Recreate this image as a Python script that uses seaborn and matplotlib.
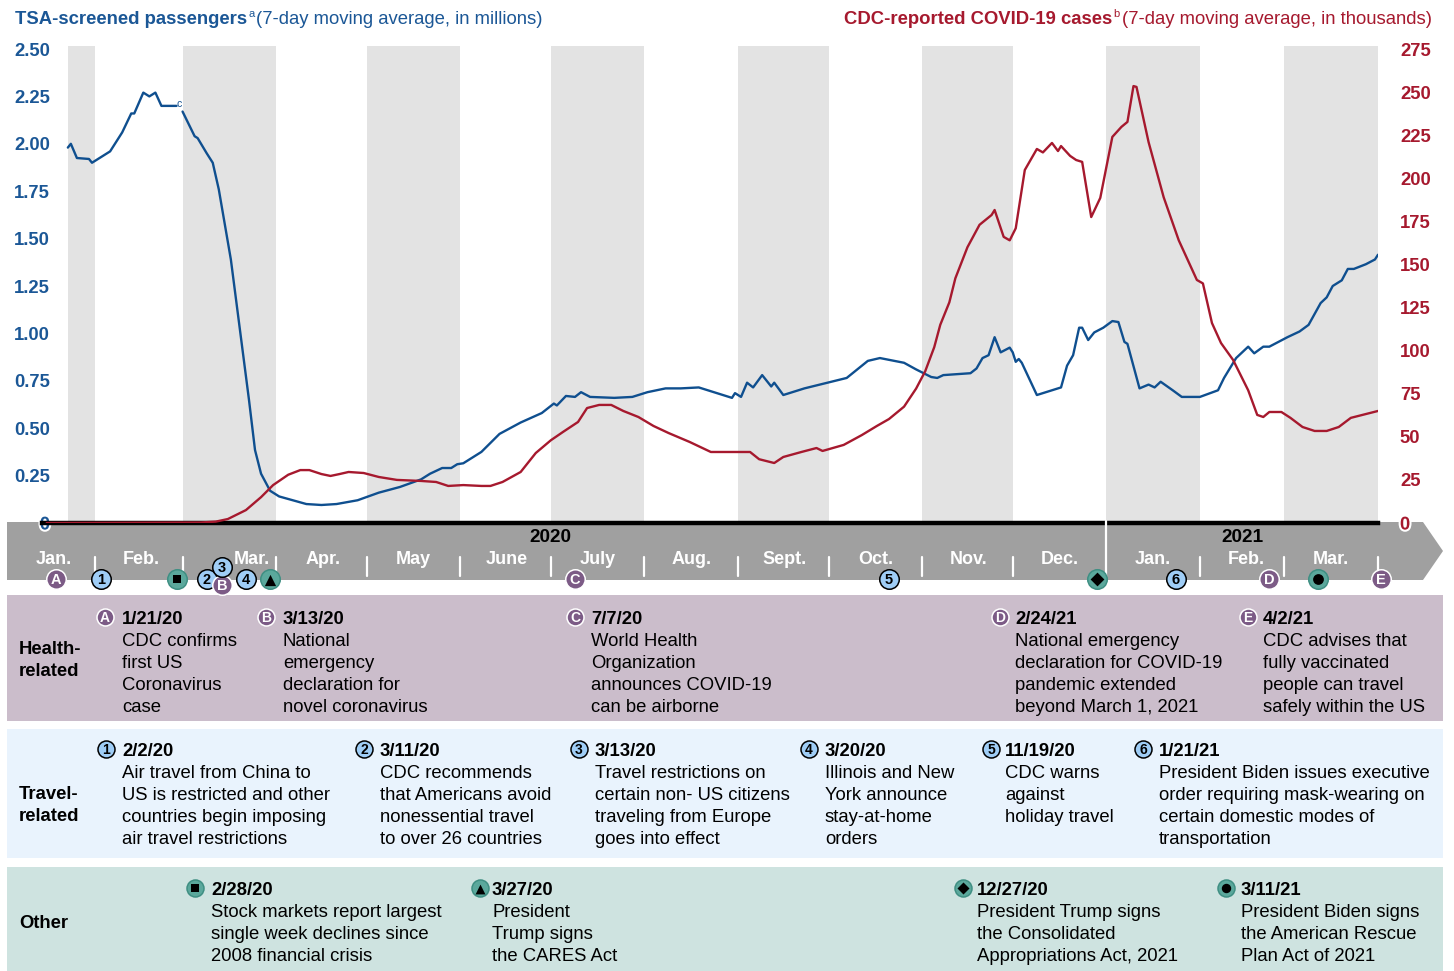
import matplotlib
matplotlib.use("Agg")
import matplotlib.pyplot as plt
import matplotlib.dates as mdates
import matplotlib.patheffects as pe
from matplotlib.patches import Polygon, Rectangle
import numpy as np
import pandas as pd
import seaborn as sns

# ---------------- data ----------------
tsa_dates = ["2020-01-23", "2020-01-24", "2020-01-26", "2020-01-30", "2020-01-31", "2020-02-06",
             "2020-02-08", "2020-02-10", "2020-02-13", "2020-02-14", "2020-02-17", "2020-02-19",
             "2020-02-21", "2020-02-23", "2020-02-28", "2020-02-29", "2020-03-01", "2020-03-05",
             "2020-03-06", "2020-03-09", "2020-03-11", "2020-03-13", "2020-03-17", "2020-03-20",
             "2020-03-23", "2020-03-25", "2020-03-27", "2020-03-30", "2020-04-02", "2020-04-11",
             "2020-04-16", "2020-04-21", "2020-04-28", "2020-05-05", "2020-05-12", "2020-05-19",
             "2020-05-22", "2020-05-26", "2020-05-29", "2020-05-31", "2020-06-02", "2020-06-08",
             "2020-06-14", "2020-06-21", "2020-06-28", "2020-07-02", "2020-07-03", "2020-07-06",
             "2020-07-09", "2020-07-11", "2020-07-14", "2020-07-22", "2020-07-28", "2020-08-02",
             "2020-08-08", "2020-08-13", "2020-08-19", "2020-08-24", "2020-08-30", "2020-08-31",
             "2020-09-02", "2020-09-04", "2020-09-06", "2020-09-09", "2020-09-12", "2020-09-13",
             "2020-09-16", "2020-09-23", "2020-10-07", "2020-10-14", "2020-10-18", "2020-10-26",
             "2020-10-30", "2020-11-04", "2020-11-06", "2020-11-08", "2020-11-17", "2020-11-19",
             "2020-11-21", "2020-11-23", "2020-11-25", "2020-11-27", "2020-11-30", "2020-12-01",
             "2020-12-02", "2020-12-03", "2020-12-04", "2020-12-09", "2020-12-17", "2020-12-19",
             "2020-12-21", "2020-12-23", "2020-12-24", "2020-12-26", "2020-12-28", "2020-12-31",
             "2021-01-03", "2021-01-05", "2021-01-07", "2021-01-08", "2021-01-12", "2021-01-15",
             "2021-01-17", "2021-01-19", "2021-01-23", "2021-01-26", "2021-02-01", "2021-02-07",
             "2021-02-09", "2021-02-13", "2021-02-17", "2021-02-19", "2021-02-22", "2021-02-24",
             "2021-02-27", "2021-03-02", "2021-03-06", "2021-03-09", "2021-03-13", "2021-03-15",
             "2021-03-17", "2021-03-20", "2021-03-22", "2021-03-24", "2021-03-28", "2021-03-31",
             "2021-04-01"]
tsa_millions = [1.98, 2.00, 1.925, 1.92, 1.90, 1.96,
                2.01, 2.06, 2.16, 2.16, 2.27, 2.25,
                2.27, 2.20, 2.20, np.nan, 2.17, 2.04,
                2.03, 1.95, 1.90, 1.76, 1.39, 1.02,
                0.65, 0.385, 0.26, 0.17, 0.14, 0.10,
                0.095, 0.10, 0.12, 0.16, 0.19, 0.23,
                0.26, 0.29, 0.29, 0.31, 0.315, 0.375,
                0.47, 0.53, 0.58, 0.63, 0.62, 0.67,
                0.665, 0.69, 0.665, 0.66, 0.665, 0.69,
                0.71, 0.71, 0.715, 0.69, 0.66, 0.685,
                0.665, 0.74, 0.715, 0.78, 0.72, 0.74,
                0.675, 0.71, 0.765, 0.855, 0.87, 0.845,
                0.81, 0.77, 0.765, 0.78, 0.79, 0.815,
                0.87, 0.885, 0.98, 0.90, 0.925, 0.90,
                0.85, 0.865, 0.845, 0.675, 0.715, 0.83,
                0.885, 1.03, 1.03, 0.965, 1.005, 1.03,
                1.065, 1.06, 0.955, 0.945, 0.71, 0.73,
                0.715, 0.745, 0.70, 0.665, 0.665, 0.70,
                0.765, 0.87, 0.93, 0.895, 0.93, 0.93,
                0.955, 0.98, 1.01, 1.045, 1.16, 1.19,
                1.25, 1.28, 1.34, 1.34, 1.365, 1.39,
                1.415]

cdc_dates = ["2020-01-16", "2020-03-07", "2020-03-12", "2020-03-16", "2020-03-22", "2020-03-27",
             "2020-03-31", "2020-04-05", "2020-04-09", "2020-04-12", "2020-04-16", "2020-04-19",
             "2020-04-22", "2020-04-25", "2020-04-30", "2020-05-05", "2020-05-11", "2020-05-19",
             "2020-05-24", "2020-05-28", "2020-06-02", "2020-06-08", "2020-06-11", "2020-06-15",
             "2020-06-21", "2020-06-26", "2020-07-01", "2020-07-05", "2020-07-10", "2020-07-13",
             "2020-07-17", "2020-07-21", "2020-07-25", "2020-07-30", "2020-08-04", "2020-08-09",
             "2020-08-16", "2020-08-23", "2020-09-01", "2020-09-05", "2020-09-08", "2020-09-13",
             "2020-09-16", "2020-09-22", "2020-09-27", "2020-09-29", "2020-10-06", "2020-10-12",
             "2020-10-17", "2020-10-21", "2020-10-26", "2020-10-30", "2020-11-02", "2020-11-05",
             "2020-11-07", "2020-11-10", "2020-11-12", "2020-11-16", "2020-11-20", "2020-11-24",
             "2020-11-25", "2020-11-28", "2020-11-30", "2020-12-02", "2020-12-05", "2020-12-09",
             "2020-12-11", "2020-12-14", "2020-12-16", "2020-12-17", "2020-12-20", "2020-12-22",
             "2020-12-24", "2020-12-27", "2020-12-30", "2021-01-03", "2021-01-06", "2021-01-08",
             "2021-01-10", "2021-01-11", "2021-01-15", "2021-01-20", "2021-01-25", "2021-01-31",
             "2021-02-02", "2021-02-05", "2021-02-08", "2021-02-12", "2021-02-17", "2021-02-20",
             "2021-02-22", "2021-02-24", "2021-02-28", "2021-03-03", "2021-03-07", "2021-03-11",
             "2021-03-15", "2021-03-19", "2021-03-23", "2021-04-01"]
cdc_thousands = [0, 0.3, 0.8, 2.3, 7.5, 15,
                 22, 28, 30.7, 30.7, 28.4, 27.3,
                 28.4, 29.6, 29, 26.7, 25, 24.4,
                 23.8, 21.5, 22, 21.5, 21.5, 23.8,
                 29.6, 40.6, 48, 52.8, 58.6, 66.7,
                 68.5, 68.5, 65, 61.5, 56.3, 52.2,
                 47, 41.2, 41.2, 41.2, 37, 34.8,
                 38.3, 41.2, 43.5, 41.8, 45.3, 51,
                 56.3, 60.3, 67.5, 78, 88, 102,
                 115, 128, 142, 160, 173, 178.7,
                 181.6, 166, 164, 171, 204.8, 217,
                 215, 220.5, 215.8, 218.7, 213, 210.6,
                 209.5, 177.5, 188.6, 224, 229.8, 232.7,
                 253.5, 253, 221, 189, 164, 141,
                 139, 116, 104.4, 94.6, 77, 62.7,
                 61.5, 64.4, 64.4, 61, 55.7, 53.4,
                 53.4, 55.7, 61, 65]

left_ticks = [0, 0.25, 0.5, 0.75, 1.0, 1.25, 1.5, 1.75, 2.0, 2.25, 2.5]
right_ticks = [0, 25, 50, 75, 100, 125, 150, 175, 200, 225, 250, 275]
month_names = ["Jan.", "Feb.", "Mar.", "Apr.", "May", "June", "July", "Aug.", "Sept.",
               "Oct.", "Nov.", "Dec.", "Jan.", "Feb.", "Mar."]
year_names = ["2020", "2021"]

health_keys = ["A", "B", "C", "D", "E"]
health_dates = ["1/21/20", "3/13/20", "7/7/20", "2/24/21", "4/2/21"]
health_texts = [["CDC confirms", "first US", "Coronavirus", "case"],
                ["National", "emergency", "declaration for", "novel coronavirus"],
                ["World Health", "Organization", "announces COVID-19", "can be airborne"],
                ["National emergency", "declaration for COVID-19", "pandemic extended",
                 "beyond March 1, 2021"],
                ["CDC advises that", "fully vaccinated", "people can travel", "safely within the US"]]
travel_keys = ["1", "2", "3", "4", "5", "6"]
travel_dates = ["2/2/20", "3/11/20", "3/13/20", "3/20/20", "11/19/20", "1/21/21"]
travel_texts = [["Air travel from China to", "US is restricted and other",
                 "countries begin imposing", "air travel restrictions"],
                ["CDC recommends", "that Americans avoid", "nonessential travel",
                 "to over 26 countries"],
                ["Travel restrictions on", "certain non- US citizens", "traveling from Europe",
                 "goes into effect"],
                ["Illinois and New", "York announce", "stay-at-home", "orders"],
                ["CDC warns", "against", "holiday travel"],
                ["President Biden issues executive", "order requiring mask-wearing on",
                 "certain domestic modes of", "transportation"]]
other_keys = ["square", "triangle", "diamond", "circle"]
other_dates = ["2/28/20", "3/27/20", "12/27/20", "3/11/21"]
other_texts = [["Stock markets report largest", "single week declines since",
                "2008 financial crisis"],
               ["President", "Trump signs", "the CARES Act"],
               ["President Trump signs", "the Consolidated", "Appropriations Act, 2021"],
               ["President Biden signs", "the American Rescue", "Plan Act of 2021"]]

# where the markers sit on the timeline
timeline_keys = ["A", "1", "square", "B", "2", "3", "4", "triangle", "C", "5",
                 "diamond", "6", "D", "circle", "E"]
timeline_dates = ["2020-01-19", "2020-02-03", "2020-02-28", "2020-03-14", "2020-03-09",
                  "2020-03-14", "2020-03-22", "2020-03-30", "2020-07-09", "2020-10-21",
                  "2020-12-29", "2021-01-24", "2021-02-24", "2021-03-12", "2021-04-02"]

# ---------------- styling ----------------
W, H = 1454, 971
BLUE = "#0f4f8f"
BLUE_T = "#1b5796"
RED = "#a6192e"
BAND = "#e3e3e3"
ARROW = "#a0a0a0"
PURPLE = "#7c5b86"
LBLUE = "#9fcdf6"
TEAL = "#5ba89c"
FS = 13.3

sns.set_style("white")
plt.rcParams["font.family"] = ["Liberation Sans", "DejaVu Sans"]

fig = plt.figure(figsize=(W / 100, H / 100), dpi=100)

# overlay axes in pixel coordinates (layout only)
ov = fig.add_axes([0, 0, 1, 1])
ov.set_xlim(0, W)
ov.set_ylim(H, 0)
ov.axis("off")
ov.set_zorder(0)

AX_L, AX_R, AX_T, AX_B = 42, 1378, 49, 523
ax = fig.add_axes([AX_L / W, 1 - AX_B / H, (AX_R - AX_L) / W, (AX_B - AX_T) / H])
ax.set_zorder(1)
ax.patch.set_visible(False)

tsa = pd.DataFrame({"date": pd.to_datetime(tsa_dates), "value": tsa_millions})
tsa["segment"] = tsa["value"].isna().cumsum()
tsa = tsa.dropna()
cdc = pd.DataFrame({"date": pd.to_datetime(cdc_dates), "value": cdc_thousands})

x0 = pd.Timestamp("2020-02-01") - pd.Timedelta(days=17.56)
x1 = pd.Timestamp("2021-04-01")

# alternating month bands
months = pd.date_range("2020-01-01", "2021-03-01", freq="MS")
for i, m in enumerate(months):
    if i % 2 == 0:
        start = max(m, tsa["date"].min())
        end = m + pd.offsets.MonthBegin(1)
        r = ax.axvspan(start, end, ymin=0, ymax=1.0065, color=BAND, lw=0, zorder=0)
        r.set_clip_on(False)

sns.lineplot(data=tsa, x="date", y="value", units="segment", estimator=None,
             color=BLUE, lw=1.7, ax=ax, zorder=3)
ax.set_xlim(x0, x1)
ax.set_ylim(0, 2.5)
ax.set_yticks(left_ticks)
ax.set_yticklabels(["0" if v == 0 else f"{v:.2f}" for v in left_ticks])
ax.tick_params(axis="y", length=0, pad=-5.8, labelsize=FS, labelcolor=BLUE_T)
for lab in ax.get_yticklabels():
    lab.set_fontweight("bold")
ax.get_yticklabels()[0].set_path_effects([pe.withStroke(linewidth=3, foreground="white")])
ax.set_xticks([])
ax.set_xlabel("")
ax.set_ylabel("")
for s in ["top", "left", "right"]:
    ax.spines[s].set_visible(False)
ax.spines["bottom"].set_color("black")
ax.spines["bottom"].set_linewidth(3.2)
ax.spines["bottom"].set_zorder(5)

ax.annotate("c", xy=(pd.Timestamp("2020-02-29"), 2.21), fontsize=7.5, color=BLUE,
            ha="center", va="center")

ax2 = ax.twinx()
ax2.set_zorder(2)
ax2.patch.set_visible(False)
sns.lineplot(data=cdc, x="date", y="value", color=RED, lw=1.7, ax=ax2, zorder=3)
ax2.set_xlim(x0, x1)
ax2.set_ylim(0, 275)
ax2.set_yticks(right_ticks)
ax2.set_yticklabels([str(v) for v in right_ticks])
ax2.tick_params(axis="y", length=0, pad=15.8, labelsize=FS, labelcolor=RED)
for lab in ax2.get_yticklabels():
    lab.set_fontweight("bold")
ax2.get_yticklabels()[0].set_path_effects([pe.withStroke(linewidth=3, foreground="white")])
ax2.set_ylabel("")
ax2.set_xlabel("")
ax2.set_xticks([])
for s in ax2.spines.values():
    s.set_visible(False)

# ---------------- timeline arrow ----------------
ov.add_patch(Polygon([[7, 522], [1423, 522], [1443, 551], [1423, 580], [7, 580]],
                     closed=True, facecolor=ARROW, edgecolor="none", zorder=1))

TL_T, TL_B = 505, 605
tl = fig.add_axes([AX_L / W, 1 - TL_B / H, (AX_R - AX_L) / W, (TL_B - TL_T) / H], sharex=ax)
tl.set_zorder(3)
tl.set_ylim(TL_B, TL_T)
tl.axis("off")
tl.patch.set_visible(False)

ticks = pd.date_range("2020-02-01", "2021-04-01", freq="MS")
for t in ticks:
    xv = mdates.date2num(t)
    if t == pd.Timestamp("2021-01-01"):
        tl.plot([xv, xv], [521, 580], color="white", lw=1.6, clip_on=False, zorder=2)
    else:
        tl.plot([xv, xv], [557, 576], color="white", lw=1.6, clip_on=False, zorder=2)

label_months = pd.date_range("2020-01-01", "2021-03-01", freq="MS")
for i, (m, name) in enumerate(zip(label_months, month_names)):
    if i == 0:
        pos = mdates.date2num(x0) + 4
    else:
        pos = mdates.date2num(m) + 15.5 + (7.5 if i == 2 else 0)
    tl.text(pos, 560, name, color="white", fontsize=FS - 0.3, fontweight="bold",
            ha="center", va="center", clip_on=False)
for yname, d in zip(year_names, ["2020-07-01", "2021-02-15"]):
    tl.text(mdates.date2num(pd.Timestamp(d)), 538, yname, color="black", fontsize=FS + 0.4,
            fontweight="bold", ha="center", va="center", clip_on=False)

SHAPES = {"square": "s", "triangle": "^", "diamond": "D", "circle": "o"}
SHAPE_SIZE = {"square": 8, "triangle": 11, "diamond": 9.5, "circle": 10.5}


def icon(axis, x, y, key, d, fs, z):
    s = (d * 0.72) ** 2
    if key in health_keys:
        axis.scatter([x], [y], s=s, c=PURPLE, edgecolors="white", linewidths=1.1,
                     zorder=z, clip_on=False)
        axis.text(x, y + 0.5, key, color="white", fontsize=fs, fontweight="bold",
                  ha="center", va="center", zorder=z + 0.1, clip_on=False)
    elif key in travel_keys:
        axis.scatter([x], [y], s=s, c=LBLUE, edgecolors="black", linewidths=1.1,
                     zorder=z, clip_on=False)
        axis.text(x, y + 0.5, key, color="black", fontsize=fs, fontweight="bold",
                  ha="center", va="center", zorder=z + 0.1, clip_on=False)
    else:
        axis.scatter([x], [y], s=s, c=TEAL, edgecolors="#3f8f83", linewidths=1.1,
                     zorder=z, clip_on=False)
        inner = (SHAPE_SIZE[key] * d / 19 * 0.72) ** 2
        axis.scatter([x], [y + (0.8 if key == "triangle" else 0)], s=inner, c="black",
                     marker=SHAPES[key], linewidths=0, zorder=z + 0.1, clip_on=False)


row_shift = {"B": 6, "3": -12}
draw_order = ["A", "1", "square", "2", "B", "3", "4", "triangle", "C", "5",
              "diamond", "6", "D", "circle", "E"]
for k in draw_order:
    idx = timeline_keys.index(k)
    xv = mdates.date2num(pd.Timestamp(timeline_dates[idx]))
    icon(tl, xv, 579 + row_shift.get(k, 0), k, 19.5, 10.5, 5 + draw_order.index(k) * 0.2)

# ---------------- panels ----------------
panels = [(595, 721, "#cbbdcb"), (729, 858, "#e9f3fd"), (867, 971, "#cee3e0")]
for top, bot, col in panels:
    ov.add_patch(Rectangle((7, top), 1436, bot - top, facecolor=col, edgecolor="none", zorder=1))

LS = 22


def line(x, yc, s, bold=False, size=FS, color="black"):
    ov.text(x, yc + 6.6, s, fontsize=size, fontweight="bold" if bold else "normal",
            color=color, ha="left", va="baseline", zorder=3)


line(19, 647, "Health-", bold=True)
line(19, 669, "related", bold=True)
line(19, 792, "Travel-", bold=True)
line(19, 814, "related", bold=True)
line(19, 921, "Other", bold=True)

health_layout = [(105, 122), (266, 283), (575, 591), (1000, 1015), (1248, 1263)]
travel_layout = [(106, 122), (364, 380), (579, 595), (809, 825), (991, 1005), (1143, 1159)]
other_layout = [(195, 211), (480, 492), (963, 977), (1226, 1241)]

for keys, dates, texts, layout, yd in [
        (health_keys, health_dates, health_texts, health_layout, 617),
        (travel_keys, travel_dates, travel_texts, travel_layout, 749),
        (other_keys, other_dates, other_texts, other_layout, 888)]:
    for k, d, t, (xi, xt) in zip(keys, dates, texts, layout):
        icon(ov, xi, yd, k, 17, 10, 4)
        line(xt, yd, d, bold=True)
        for j, s in enumerate(t):
            line(xt, yd + LS * (j + 1), s)

# ---------------- titles with superscripts ----------------
fig.canvas.draw()
rend = fig.canvas.get_renderer()

t1 = ov.text(15, 24, "TSA-screened passengers", fontsize=FS, fontweight="bold",
             color=BLUE_T, va="baseline", ha="left")
xa = 15 + t1.get_window_extent(rend).width + 1
t2 = ov.text(xa, 17, "a", fontsize=8, color=BLUE_T, va="baseline", ha="left")
xb = xa + t2.get_window_extent(rend).width + 2
ov.text(xb, 24, "(7-day moving average, in millions)", fontsize=FS, color=BLUE_T,
        va="baseline", ha="left")

r3 = ov.text(1432, 24, "(7-day moving average, in thousands)", fontsize=FS, color=RED,
             va="baseline", ha="right")
xr = 1432 - r3.get_window_extent(rend).width - 2
r2 = ov.text(xr, 17, "b", fontsize=8, color=RED, va="baseline", ha="right")
xr2 = xr - r2.get_window_extent(rend).width - 1
ov.text(xr2, 24, "CDC-reported COVID-19 cases", fontsize=FS, fontweight="bold", color=RED,
        va="baseline", ha="right")

fig.savefig("out.png", dpi=100)
